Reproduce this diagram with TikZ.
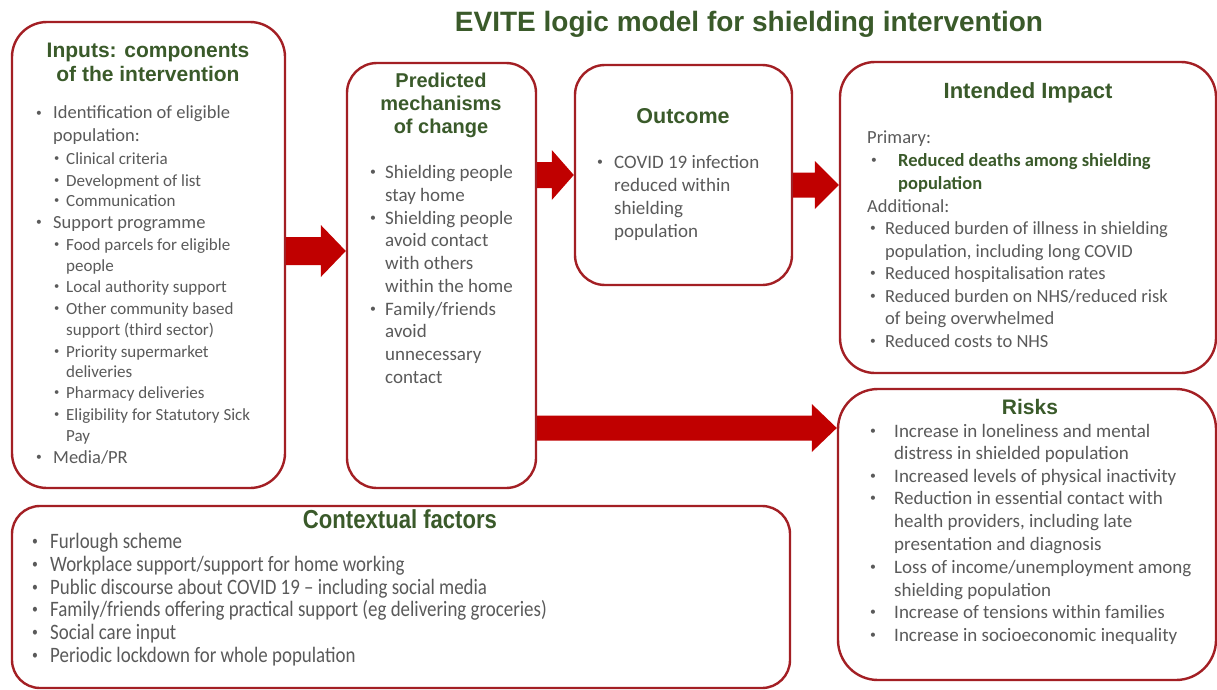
\documentclass[tikz,border=0pt]{standalone}
\usepackage{fontspec}
\usepackage{graphicx}
\setmainfont{Carlito}
\newfontfamily\hfont{Liberation Sans}
\newfontfamily\nfont[FakeStretch=0.86]{Carlito}
\newfontfamily\nhfont[FakeStretch=0.85]{Liberation Sans}
\usetikzlibrary{calc}
\definecolor{bord}{HTML}{A31F24}
\definecolor{arrfill}{HTML}{C00000}
\definecolor{hgreen}{HTML}{3A5A2A}
\definecolor{tgray}{HTML}{5A5A5A}
\tikzset{
  box/.style={draw=bord, line width=2.4pt, rounded corners=#1, fill=white, inner sep=0pt},
  box/.default=30pt,
  tm/.style={anchor=base west, inner sep=0pt, text=tgray, font=\fontsize{18.5}{22}\selectfont},
  tmm/.style={anchor=base west, inner sep=0pt, text=tgray, font=\fontsize{19}{22}\selectfont},
  ts/.style={anchor=base west, inner sep=0pt, text=tgray, font=\fontsize{17}{20}\selectfont},
  tb/.style={anchor=base west, inner sep=0pt, text=hgreen, font=\fontsize{18.5}{22}\selectfont\bfseries},
  tc/.style={anchor=base west, inner sep=0pt, text=tgray, font=\nfont\fontsize{22}{24}\selectfont},
  hd/.style={anchor=base, inner sep=0pt, text=hgreen, font=\hfont\bfseries\fontsize{#1}{#1}\selectfont},
  hd/.default=21,
}
\newcommand\bul{\raisebox{0.13em}{\scalebox{0.62}{\color{tgray}\mdseries •}}}
\newcounter{lc}
\newcommand\Ln[4]{\stepcounter{lc}\node[#1] (ln\arabic{lc}) at (#2,#3+5) {#4};}
\newcommand\Bl[5]{\stepcounter{lc}\node[#1] (ln\arabic{lc}) at (#2,#4+5) {\makebox[\dimexpr#3pt-#2pt\relax][l]{\bul}#5};}
\newcommand\Hd[4]{\stepcounter{lc}\node[hd=#1] (hd\arabic{lc}) at (#2,#3+7.5) {#4};}
\newcommand\blockarr[6]{%
  \fill[arrfill] let \p1=(#1), \p2=(#2), \p3=(#3) in
    (\x1,\y3+#4) -- (\x2-#6,\y3+#4) -- (\x2-#6,\y3+#5) -- (\x2,\y3)
    -- (\x2-#6,\y3-#5) -- (\x2-#6,\y3-#4) -- (\x1,\y3-#4) -- cycle;}
\begin{document}
\begin{tikzpicture}[x=1pt,y=-1pt]
\useasboundingbox (0,0) rectangle (1217,690);
\fill[white] (0,0) rectangle (1217,690);

% title
\node[hd=28] (title) at (749,32) {EVITE logic model for shielding intervention};

% boxes
\node[box=35pt, minimum width=273pt, minimum height=466pt] (inputs) at (148.5,255) {};
\node[box=30pt, minimum width=189pt, minimum height=425pt] (mech) at (441.5,275.5) {};
\node[box=30pt, minimum width=217pt, minimum height=220pt] (outcome) at (683.5,175) {};
\node[box=35pt, minimum width=376pt, minimum height=311pt] (impact) at (1028,217.5) {};
\node[box=40pt, minimum width=378pt, minimum height=291pt] (risks) at (1027,534.5) {};
\node[box=28pt, minimum width=778pt, minimum height=182pt] (context) at (401,597) {};

% arrow levels
\coordinate (lv1) at (0,251);
\coordinate (lv2) at (0,175);
\coordinate (lv3) at (0,185);
\coordinate (lv4) at (0,428);
\blockarr{inputs.east}{mech.west}{lv1}{14pt}{26pt}{25pt}
\blockarr{mech.east}{outcome.west}{lv2}{13pt}{25pt}{22pt}
\blockarr{outcome.east}{impact.west}{lv3}{12.5pt}{24pt}{24pt}
\blockarr{mech.east}{risks.west}{lv4}{12.5pt}{24pt}{25pt}

% inputs
\Hd{21}{148}{50}{Inputs: components}
\Hd{21}{148}{74}{of the intervention}
\Bl{tm}{36}{53}{114}{Identification of eligible}
\Ln{tm}{53}{137}{population:}
\Bl{ts}{54}{66}{159}{Clinical criteria}
\Bl{ts}{54}{66}{181}{Development of list}
\Bl{ts}{54}{66}{201}{Communication}
\Bl{tm}{36}{53}{223}{Support programme}
\Bl{ts}{54}{66}{245}{Food parcels for eligible}
\Ln{ts}{66}{266}{people}
\Bl{ts}{54}{66}{287}{Local authority support}
\Bl{ts}{54}{66}{309}{Other community based}
\Ln{ts}{66}{330}{support (third sector)}
\Bl{ts}{54}{66}{352}{Priority supermarket}
\Ln{ts}{66}{372}{deliveries}
\Bl{ts}{54}{66}{393}{Pharmacy deliveries}
\Bl{ts}{54}{66}{415}{Eligibility for Statutory Sick}
\Ln{ts}{66}{436}{Pay}
\Bl{tm}{36}{53}{458}{Media/PR}

% mechanisms
\Hd{20}{441}{80}{Predicted}
\Hd{20}{441}{103}{mechanisms}
\Hd{20}{441}{126}{of change}
\Bl{tmm}{370}{385}{173}{Shielding people}
\Ln{tmm}{385}{196}{stay home}
\Bl{tmm}{370}{385}{219}{Shielding people}
\Ln{tmm}{385}{241}{avoid contact}
\Ln{tmm}{385}{264}{with others}
\Ln{tmm}{385}{287}{within the home}
\Bl{tmm}{370}{385}{310}{Family/friends}
\Ln{tmm}{385}{332}{avoid}
\Ln{tmm}{385}{355}{unnecessary}
\Ln{tmm}{385}{378}{contact}

% outcome
\Hd{21.5}{683}{116}{Outcome}
\Bl{tmm}{597}{614}{163}{COVID 19 infection}
\Ln{tmm}{614}{186}{reduced within}
\Ln{tmm}{614}{209}{shielding}
\Ln{tmm}{614}{232}{population}

% impact
\Hd{22}{1028}{91}{Intended Impact}
\Ln{tm}{867}{138}{Primary:}
\Bl{tb}{871}{898}{161}{Reduced deaths among shielding}
\Ln{tb}{898}{184}{population}
\Ln{tm}{867}{207}{Additional:}
\Bl{tm}{870}{885}{229}{Reduced burden of illness in shielding}
\Ln{tm}{885}{252}{population, including long COVID}
\Bl{tm}{870}{885}{274}{Reduced hospitalisation rates}
\Bl{tm}{870}{885}{297}{Reduced burden on NHS/reduced risk}
\Ln{tm}{885}{319}{of being overwhelmed}
\Bl{tm}{870}{885}{342}{Reduced costs to NHS}

% risks
\Hd{21}{1030}{407}{Risks}
\Bl{tmm}{870}{894}{432}{Increase in loneliness and mental}
\Ln{tmm}{894}{454}{distress in shielded population}
\Bl{tmm}{870}{894}{477}{Increased levels of physical inactivity}
\Bl{tmm}{870}{894}{499}{Reduction in essential contact with}
\Ln{tmm}{894}{522}{health providers, including late}
\Ln{tmm}{894}{545}{presentation and diagnosis}
\Bl{tmm}{870}{894}{568}{Loss of income/unemployment among}
\Ln{tmm}{894}{591}{shielding population}
\Bl{tmm}{870}{894}{613}{Increase of tensions within families}
\Bl{tmm}{870}{894}{636}{Increase in socioeconomic inequality}

% context
\node[anchor=base, inner sep=0pt, text=hgreen, font=\nhfont\bfseries\fontsize{26}{26}\selectfont] (cth) at (400,528) {Contextual factors};
\Bl{tc}{32}{50}{543}{Furlough scheme}
\Bl{tc}{32}{50}{566}{Workplace support/support for home working}
\Bl{tc}{32}{50}{589}{Public discourse about COVID 19 – including social media}
\Bl{tc}{32}{50}{611}{Family/friends offering practical support (eg delivering groceries)}
\Bl{tc}{32}{50}{634}{Social care input}
\Bl{tc}{32}{50}{657}{Periodic lockdown for whole population}
\end{tikzpicture}
\end{document}
